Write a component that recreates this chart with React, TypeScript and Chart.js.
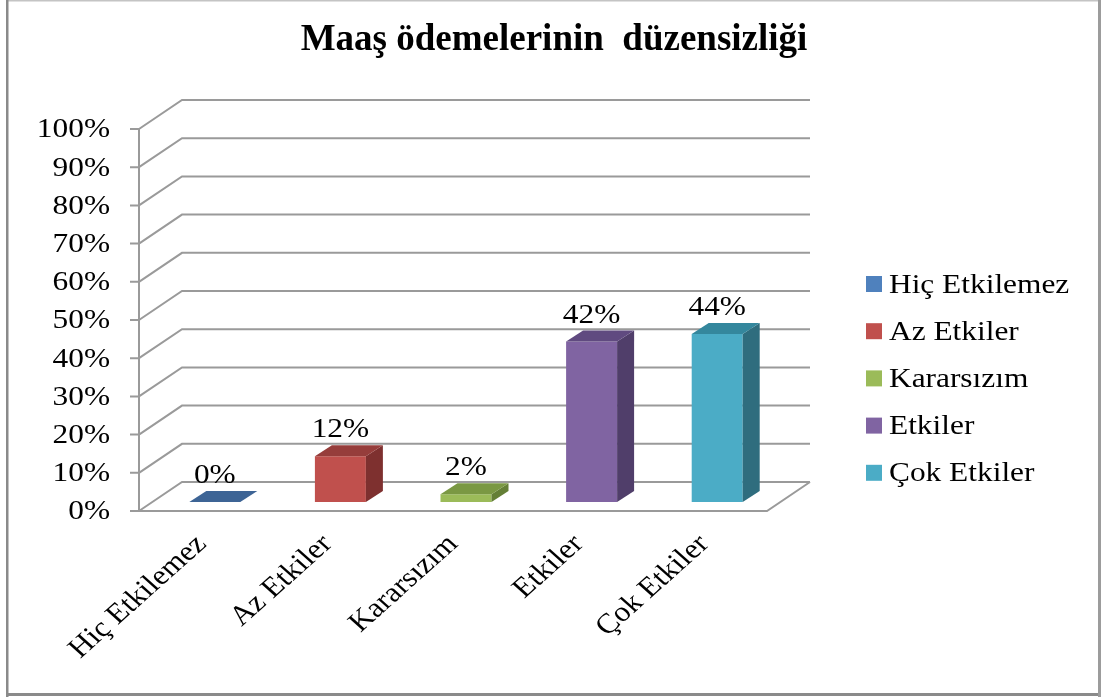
import React, { useEffect, useRef } from "react";
import { Chart, registerables } from "chart.js";

Chart.register(...registerables);

// ---- data ----
const categories = ["Hiç Etkilemez", "Az Etkiler", "Kararsızım", "Etkiler", "Çok Etkiler"];
const values = [0, 12, 2, 42, 44];
const yTicks = [0, 10, 20, 30, 40, 50, 60, 70, 80, 90, 100];
const chartTitle = "Maaş ödemelerinin  düzensizliği";

// ---- styles ----
const frontColors = ["#4F81BD", "#C0504D", "#9BBB59", "#8064A2", "#4BACC6"];
const topColors = ["#3D6495", "#963D3B", "#7A9843", "#604A80", "#34879D"];
const sideColors = ["#2E4D74", "#7E302F", "#647F36", "#503E6A", "#2F6D7E"];
const FONT = '"Liberation Serif", "Times New Roman", serif';
const SX = 1.12; // horizontal stretch of the text
const GRID = "#9a9a9a";
const FRONT = { dx: -13, dy: 9 };
const BACK = { dx: 30, dy: -20 };
const DEPTH = { dx: 17, dy: -11 };

function stretchedText(ctx: CanvasRenderingContext2D, text: string, x: number, y: number, align: CanvasTextAlign, baseline: CanvasTextBaseline) {
  ctx.save();
  ctx.translate(x, y);
  ctx.scale(SX, 1);
  ctx.textAlign = align;
  ctx.textBaseline = baseline;
  ctx.fillText(text, 0, 0);
  ctx.restore();
}

const threeD = {
  id: "threeD",
  beforeDatasetsDraw(chart: any) {
    const { ctx, chartArea, scales } = chart;
    const xs = scales.x;
    const ys = scales.y;
    const left = chartArea.left;
    const right = chartArea.right;
    ctx.save();

    // frame
    ctx.fillStyle = "#c4c4c4";
    ctx.fillRect(6, 0, 1095, 1.5);
    ctx.fillStyle = "#8a8a8a";
    ctx.fillRect(6, 0, 2.5, 697);
    ctx.fillRect(6, 693, 1095, 3);
    ctx.fillStyle = "#9c9c9c";
    ctx.fillRect(1098, 0, 3, 697);

    // title
    ctx.fillStyle = "#000";
    ctx.font = `bold 37px ${FONT}`;
    ctx.textAlign = "center";
    ctx.textBaseline = "alphabetic";
    ctx.fillText(chartTitle, 554, 50);

    // grid: back wall + left diagonals
    ctx.strokeStyle = GRID;
    ctx.lineWidth = 2;
    yTicks.forEach((v) => {
      const py = ys.getPixelForValue(v);
      ctx.beginPath();
      ctx.moveTo(left + FRONT.dx, py + FRONT.dy);
      ctx.lineTo(left + BACK.dx, py + BACK.dy);
      ctx.lineTo(right + BACK.dx, py + BACK.dy);
      ctx.stroke();
    });
    // floor front & right edge
    const y0 = ys.getPixelForValue(0);
    const yTop = ys.getPixelForValue(yTicks[yTicks.length - 1]);
    ctx.beginPath();
    ctx.moveTo(left + FRONT.dx, y0 + FRONT.dy);
    ctx.lineTo(right + FRONT.dx, y0 + FRONT.dy);
    ctx.lineTo(right + BACK.dx, y0 + BACK.dy);
    ctx.stroke();
    // vertical axis and ticks
    const ax = left + FRONT.dx;
    ctx.beginPath();
    ctx.moveTo(ax, y0 + FRONT.dy);
    ctx.lineTo(ax, yTop + FRONT.dy);
    yTicks.forEach((v) => {
      const py = ys.getPixelForValue(v) + FRONT.dy;
      ctx.moveTo(ax - 9, py);
      ctx.lineTo(ax, py);
    });
    ctx.stroke();

    // y tick labels
    ctx.fillStyle = "#000";
    ctx.font = `28px ${FONT}`;
    yTicks.forEach((v) => {
      const py = ys.getPixelForValue(v) + FRONT.dy;
      stretchedText(ctx, `${v}%`, ax - 29, py + 1, "right", "middle");
    });

    // x category labels (rotated)
    categories.forEach((c, i) => {
      const cx = xs.getPixelForValue(i) + FRONT.dx;
      ctx.save();
      ctx.translate(cx - 11, y0 + FRONT.dy + 19);
      ctx.scale(SX, 1);
      ctx.rotate(-Math.PI / 4);
      ctx.textAlign = "right";
      ctx.textBaseline = "top";
      ctx.fillText(c, 0, 0);
      ctx.restore();
    });

    // legend
    categories.forEach((c, i) => {
      const ry = 284 + i * 47.2;
      ctx.fillStyle = frontColors[i];
      ctx.fillRect(866, ry - 8, 16, 16);
      ctx.fillStyle = "#000";
      stretchedText(ctx, c, 889, ry + 8.5, "left", "alphabetic");
    });

    ctx.restore();
  },
  afterDatasetsDraw(chart: any) {
    const { ctx } = chart;
    const meta = chart.getDatasetMeta(0);
    ctx.save();
    meta.data.forEach((bar: any, i: number) => {
      const { x, y, base, width } = bar.getProps(["x", "y", "base", "width"], true);
      const l = x - width / 2;
      const r = x + width / 2;
      // side face
      ctx.fillStyle = sideColors[i];
      ctx.beginPath();
      ctx.moveTo(r, y);
      ctx.lineTo(r + DEPTH.dx, y + DEPTH.dy);
      ctx.lineTo(r + DEPTH.dx, base + DEPTH.dy);
      ctx.lineTo(r, base);
      ctx.closePath();
      ctx.fill();
      // top face
      ctx.fillStyle = topColors[i];
      ctx.beginPath();
      ctx.moveTo(l, y);
      ctx.lineTo(l + DEPTH.dx, y + DEPTH.dy);
      ctx.lineTo(r + DEPTH.dx, y + DEPTH.dy);
      ctx.lineTo(r, y);
      ctx.closePath();
      ctx.fill();
      // data label
      ctx.fillStyle = "#000";
      ctx.font = `28px ${FONT}`;
      stretchedText(ctx, `${values[i]}%`, x, y + DEPTH.dy - 8, "center", "alphabetic");
    });
    ctx.restore();
  },
};

export default function App() {
  const ref = useRef<HTMLCanvasElement | null>(null);
  useEffect(() => {
    if (!ref.current) return;
    const chart = new Chart(ref.current, {
      type: "bar",
      data: {
        labels: categories,
        datasets: [
          {
            data: values,
            backgroundColor: frontColors,
            borderWidth: 0,
            barPercentage: 0.406,
            categoryPercentage: 1,
          },
        ],
      },
      options: {
        responsive: false,
        maintainAspectRatio: false,
        animation: false,
        devicePixelRatio: 1,
        layout: { padding: { left: 152, right: 321, top: 120, bottom: 195 } },
        scales: {
          x: { display: false },
          y: { display: false, min: 0, max: 100 },
        },
        plugins: {
          legend: { display: false },
          title: { display: false },
          tooltip: { enabled: false },
        },
      },
      plugins: [threeD],
    });
    return () => chart.destroy();
  }, []);
  return (
    <div style={{ position: "fixed", left: 0, top: 0, width: 1101, height: 697, background: "#fff" }}>
      <canvas ref={ref} width={1101} height={697} style={{ display: "block" }} />
    </div>
  );
}
